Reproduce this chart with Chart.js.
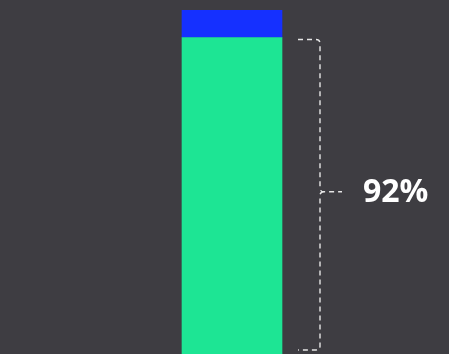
<!DOCTYPE html>
<html>
<head>
<meta charset="utf-8">
<script src="https://cdn.jsdelivr.net/npm/chart.js@4"></script>
<style>
  html, body { margin: 0; padding: 0; background: #3e3d42; }
  #wrap { width: 449px; height: 354px; }
</style>
</head>
<body>
<div id="wrap"><canvas id="shareChart"></canvas></div>
<script>
// ----------------------- Data -----------------------
const categories = ['Total'];
const mainShare = [92];   // green part
const restShare = [8];    // blue part on top
const bracketLabel = '92%';

// ----------------------- Bracket + label plugin -----------------------
const bracketPlugin = {
  id: 'bracket',
  afterDatasetsDraw(chart) {
    const ctx = chart.ctx;
    const y = chart.scales.y;
    const meta = chart.getDatasetMeta(0).data[0];
    const barRight = meta.x + meta.width / 2;

    const top = y.getPixelForValue(mainShare[0]) + 2;
    const bottom = y.getPixelForValue(0) - 4;
    const mid = (top + bottom) / 2 - 3;
    const xl = barRight + 16;   // end of the horizontal arms
    const xv = barRight + 38;   // vertical spine
    const xt = barRight + 60;   // tip
    const r = 4;

    ctx.save();
    ctx.strokeStyle = '#e6e6e6';
    ctx.lineWidth = 1.4;
    ctx.setLineDash([5, 4]);
    ctx.beginPath();
    ctx.moveTo(xl, top);
    ctx.lineTo(xv - r, top);
    ctx.quadraticCurveTo(xv, top, xv, top + r);
    ctx.lineTo(xv, mid - r);
    ctx.quadraticCurveTo(xv, mid, xv + r, mid);
    ctx.lineTo(xt, mid);
    ctx.moveTo(xv + r, mid);
    ctx.quadraticCurveTo(xv, mid, xv, mid + r);
    ctx.lineTo(xv, bottom - r);
    ctx.quadraticCurveTo(xv, bottom, xv - r, bottom);
    ctx.lineTo(xl, bottom);
    ctx.stroke();

    ctx.setLineDash([]);
    ctx.fillStyle = '#ffffff';
    ctx.font = 'bold 32px "Open Sans"';
    ctx.textBaseline = 'middle';
    ctx.textAlign = 'left';
    ctx.fillText(bracketLabel, xt + 21, mid + 1);
    ctx.restore();
  }
};

// ----------------------- Chart -----------------------
const ctx = document.getElementById('shareChart');
new Chart(ctx, {
  type: 'bar',
  data: {
    labels: categories,
    datasets: [
      {
        label: 'Share',
        data: mainShare,
        backgroundColor: '#1de594',
        borderWidth: 0,
        barThickness: 100
      },
      {
        label: 'Rest',
        data: restShare,
        backgroundColor: '#1530ff',
        borderWidth: 0,
        barThickness: 100
      }
    ]
  },
  options: {
    responsive: true,
    maintainAspectRatio: false,
    animation: false,
    layout: { padding: { left: 15, top: 10, right: 0, bottom: 0 } },
    scales: {
      x: { stacked: true, display: false },
      y: { stacked: true, display: false, min: 0, max: 100 }
    },
    plugins: {
      legend: { display: false },
      tooltip: { enabled: false }
    }
  },
  plugins: [bracketPlugin]
});
</script>
</body>
</html>
